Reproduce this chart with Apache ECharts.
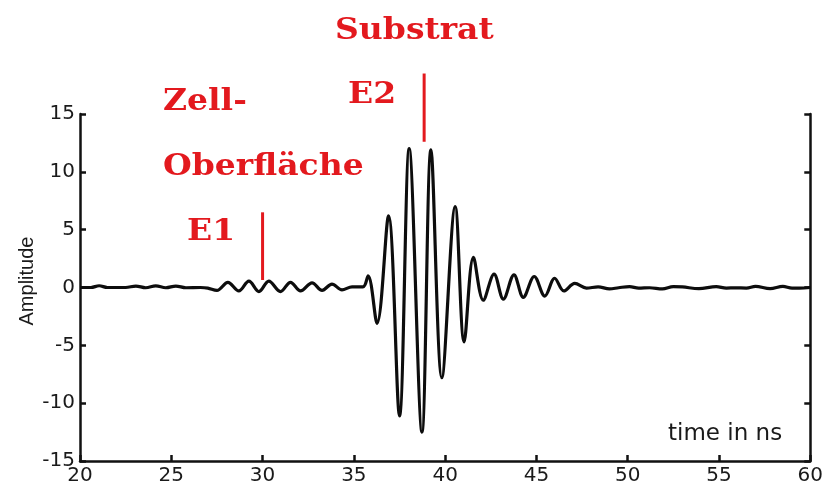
<!DOCTYPE html>
<html>
<head>
<meta charset="utf-8">
<script src="https://cdn.jsdelivr.net/npm/echarts@6/dist/echarts.min.js"></script>
<style>
  html, body { margin: 0; padding: 0; background: #ffffff; }
  #chart { width: 826px; height: 487px; }
</style>
</head>
<body>
<div id="chart"></div>
<script>
// Echo signal: time (ns) and amplitude samples at the turning points of the trace
const timeNs = [
  20.0, 20.6, 21.05, 21.5, 22.5, 23.06, 23.6, 24.15, 24.7, 25.25, 25.8, 26.6, 27.0, 27.5,
  28.1, 28.7, 29.25, 29.8, 30.34, 30.98, 31.53, 32.08, 32.71, 33.26, 33.8, 34.35, 34.9, 35.5,
  35.78, 36.27, 36.9, 37.5, 38.03, 38.73, 39.22, 39.82, 40.55, 41.04, 41.55, 42.09, 42.68,
  43.19, 43.77, 44.28, 44.88, 45.46, 46.0, 46.5, 47.1, 47.74, 48.38, 49.0, 49.5, 50.1, 50.6,
  51.2, 51.9, 52.5, 53.0, 53.9, 54.85, 55.4, 55.9, 56.5, 57.0, 57.8, 58.5, 59.0, 59.4, 60.0
];
const amplitude = [
  0.0, 0.0, 0.15, 0.0, 0.0, 0.12, -0.02, 0.14, -0.02, 0.12, -0.02, 0.0, -0.05, -0.25,
  0.45, -0.3, 0.55, -0.35, 0.55, -0.35, 0.45, -0.3, 0.4, -0.25, 0.3, -0.2, 0.05, 0.05,
  1.0, -3.1, 6.2, -11.1, 12.0, -12.5, 11.9, -7.8, 7.0, -4.7, 2.6, -1.1, 1.15,
  -1.0, 1.1, -0.85, 0.95, -0.75, 0.8, -0.3, 0.35, -0.05, 0.05, -0.12, -0.02, 0.08, -0.05,
  -0.02, -0.12, 0.08, 0.05, -0.1, 0.08, -0.05, -0.03, -0.05, 0.1, -0.1, 0.1, -0.05, -0.05, 0.0
];

// Axis ranges and ticks
const xTicks = [20, 25, 30, 35, 40, 45, 50, 55, 60];
const yTicks = [-15, -10, -5, 0, 5, 10, 15];

// Echo markers: arrival times of the two reflections
const eventTimes = [30.0, 38.85];
const eventNames = ['E1', 'E2'];

const RED = '#e3191e';
const AXIS = '#111111';

const chart = echarts.init(document.getElementById('chart'), null, { renderer: 'canvas' });

const points = timeNs.map((t, i) => [t, amplitude[i]]);

const axisCommon = {
  axisLine: { show: true, onZero: false, lineStyle: { color: AXIS, width: 2.5 } },
  axisTick: { show: true, inside: true, length: 6, lineStyle: { color: AXIS, width: 2.5 } },
  splitLine: { show: false }
};

chart.setOption({
  backgroundColor: '#ffffff',
  animation: false,
  grid: { left: 80, right: 15, top: 114, bottom: 26, containLabel: false },
  xAxis: Object.assign({
    type: 'value',
    min: xTicks[0],
    max: xTicks[xTicks.length - 1],
    interval: xTicks[1] - xTicks[0],
    axisLabel: {
      color: '#1a1a1a', fontFamily: 'DejaVu Sans', fontSize: 20, margin: 5,
      showMinLabel: true, showMaxLabel: true
    }
  }, axisCommon),
  yAxis: [
    Object.assign({
      type: 'value',
      min: yTicks[0],
      max: yTicks[yTicks.length - 1],
      interval: yTicks[1] - yTicks[0],
      axisLabel: {
        color: '#1a1a1a', fontFamily: 'DejaVu Sans', fontSize: 20, margin: 5,
        showMinLabel: true, showMaxLabel: true
      }
    }, axisCommon),
    Object.assign({
      type: 'value',
      position: 'right',
      min: yTicks[0],
      max: yTicks[yTicks.length - 1],
      interval: yTicks[1] - yTicks[0],
      axisLabel: { show: false }
    }, axisCommon)
  ],
  series: [{
    type: 'line',
    data: points,
    showSymbol: false,
    smooth: 0.35,
    lineStyle: { color: '#0d0d0d', width: 3.2 },
    z: 3
  }]
});

// Marker lines for the echoes, placed in data coordinates
const eventSpans = [[0.65, 6.5], [12.6, 18.5]];
const graphics = [];
eventTimes.forEach((t, i) => {
  const p0 = chart.convertToPixel({ gridIndex: 0 }, [t, eventSpans[i][0]]);
  const p1 = chart.convertToPixel({ gridIndex: 0 }, [t, eventSpans[i][1]]);
  graphics.push({
    type: 'line',
    shape: { x1: p0[0], y1: p0[1], x2: p1[0], y2: p1[1] },
    style: { stroke: RED, lineWidth: 3 },
    z: 10
  });
});

// Bold red captions, widened a little
const labelFont = 'bold 30px "DejaVu Serif"';
function redText(text, x, y) {
  return {
    type: 'text', x: x, y: y, z: 10,
    scaleX: 1.1, originX: 0, originY: 0,
    style: { text: text, font: labelFont, fill: RED, verticalAlign: 'middle', align: 'left' }
  };
}
graphics.push(redText('Substrat', 335, 31));
graphics.push(redText(eventNames[1], 348, 95));
graphics.push(redText('Zell-', 163, 102));
graphics.push(redText('Oberfläche', 163, 167));
graphics.push(redText(eventNames[0], 187, 232));

// Axis titles
graphics.push({
  type: 'text', x: 668, y: 434, z: 10,
  style: { text: 'time in ns', font: '23px "DejaVu Sans"', fill: '#1a1a1a', verticalAlign: 'middle', align: 'left' }
});
graphics.push({
  type: 'text', x: 27, y: 281, z: 10, rotation: Math.PI / 2,
  style: { text: 'Amplitude', font: '20px "Liberation Sans"', fill: '#1a1a1a', verticalAlign: 'middle', align: 'center' }
});

chart.setOption({ graphic: graphics });
</script>
</body>
</html>
